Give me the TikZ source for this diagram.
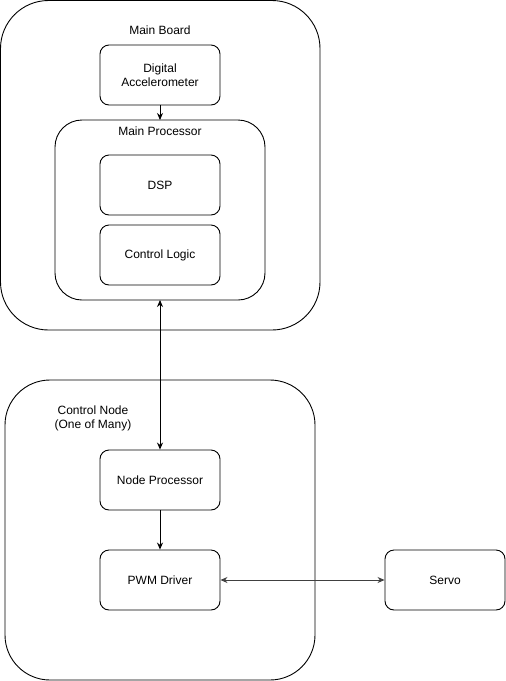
\documentclass[tikz,border=0pt]{standalone}
\usepackage{fontspec}
\setmainfont{Liberation Sans}
\usetikzlibrary{arrows.meta}
\begin{document}
\begin{tikzpicture}[x=1pt,y=-1pt,
  box/.style={draw, line width=0.9pt, rounded corners=9pt, minimum width=120pt, minimum height=60pt, align=center, inner sep=0pt, font=\fontsize{12}{14}\selectfont},
  group/.style={draw, line width=0.9pt},
  lbl/.style={align=center, inner sep=0pt, font=\fontsize{12}{14}\selectfont},
  arr/.style={line width=0.9pt, -{Stealth[length=7pt,width=6pt]}},
  barr/.style={line width=0.9pt, {Stealth[length=7pt,width=6pt]}-{Stealth[length=7pt,width=6pt]}}]
\useasboundingbox (0,0) rectangle (506,681);
% groups
\draw[group, rounded corners=48pt] (0.5,0.5) rectangle (320,330);
\draw[group, rounded corners=27pt] (55,120) rectangle (265,300);
\draw[group, rounded corners=45pt] (5,380) rectangle (315,680);
\coordinate (mpbot) at (160,300);
\coordinate (mptop) at (160,120);
\node[lbl] (mb) at (160,30) {Main Board};
\node[lbl] (mp) at (160,131) {Main Processor};
\node[lbl] (cn) at (93,418) {Control Node\\(One of Many)};
% boxes
\node[box] (acc) at (160,75) {Digital\\Accelerometer};
\node[box] (dsp) at (160,185) {DSP};
\node[box] (cl) at (160,255) {Control Logic};
\node[box] (np) at (160,480) {Node Processor};
\node[box] (pwm) at (160,580) {PWM Driver};
\node[box] (servo) at (445,580) {Servo};
% connectors
\draw[arr] (acc) -- (mptop);
\draw[barr] (mpbot) -- (np);
\draw[arr] (np) -- (pwm);
\draw[barr, draw=black!75] (pwm) -- (servo);
\end{tikzpicture}
\end{document}
